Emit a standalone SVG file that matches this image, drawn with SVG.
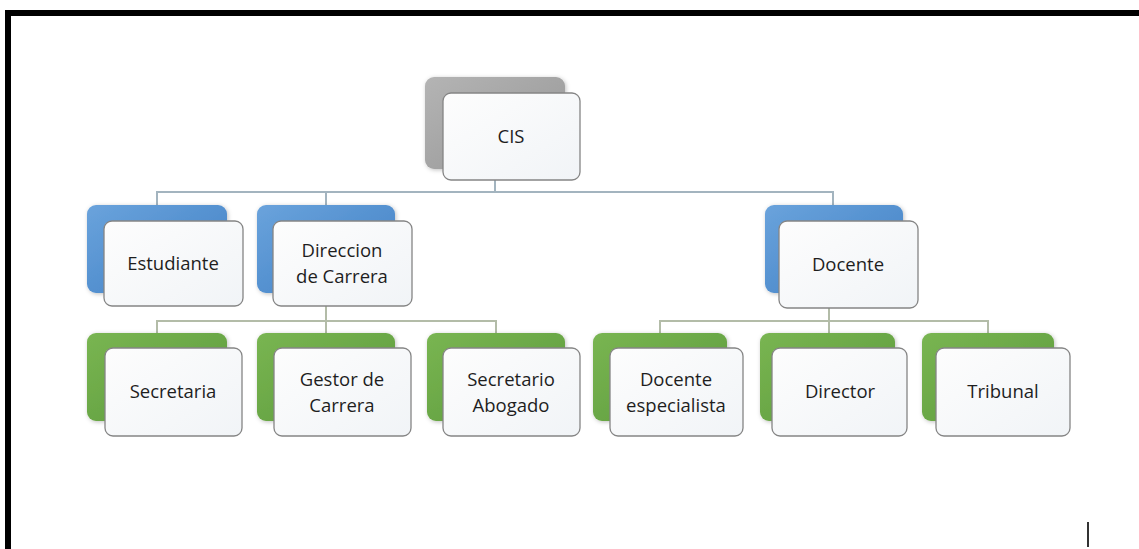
<svg xmlns="http://www.w3.org/2000/svg" width="1139" height="549" viewBox="0 0 1139 549">
<defs>
<linearGradient id="gGray" x1="0" y1="0" x2="1" y2="1"><stop offset="0" stop-color="#b4b4b4"/><stop offset="1" stop-color="#959595"/></linearGradient>
<linearGradient id="gBlue" x1="0" y1="0" x2="1" y2="1"><stop offset="0" stop-color="#6aa3dc"/><stop offset="1" stop-color="#3f7fc4"/></linearGradient>
<linearGradient id="gGreen" x1="0" y1="0" x2="1" y2="1"><stop offset="0" stop-color="#79b552"/><stop offset="1" stop-color="#5c9a3a"/></linearGradient>
<linearGradient id="gFront" x1="0" y1="0" x2="1" y2="1"><stop offset="0" stop-color="#fdfdfd"/><stop offset="1" stop-color="#f1f4f7"/></linearGradient>
<filter id="sh" x="-10%" y="-10%" width="125%" height="125%"><feDropShadow dx="1" dy="1" stdDeviation="2" flood-color="#000" flood-opacity="0.25"/></filter>
</defs>
<style>
.back{filter:url(#sh)}
.gray{fill:url(#gGray)}
.blue{fill:url(#gBlue)}
.green{fill:url(#gGreen)}
.front{fill:url(#gFront);stroke:#858585;stroke-width:1.3}
.t{font-family:"Open Sans","Liberation Sans",sans-serif;font-size:18.5px;fill:#1e1e1e;text-anchor:middle}
.c1{fill:none;stroke:#a3b4bf;stroke-width:2}
.c2{fill:none;stroke:#b3bca8;stroke-width:2}
</style>
<rect width="1139" height="549" fill="#fff"/>
<path d="M8 549 V13 H1139" fill="none" stroke="#000" stroke-width="6"/>
<line x1="1088" y1="522" x2="1088" y2="547" stroke="#333" stroke-width="2"/>

<g id="connectors">
<path class="c1" d="M495 180 V192 M157 205 V192 H833 V205 M326 192 V205"/>
<path class="c2" d="M326 306 V321 M157 333 V321 H496 V333 M326 321 V333"/>
<path class="c2" d="M829 308 V321 M660 333 V321 H988 V333 M829 321 V333"/>
</g>

<g id="cis"><rect class="back gray" x="425" y="77" width="140" height="92" rx="9"/><rect class="front" x="443" y="93" width="137" height="87" rx="8"/><text class="t" x="511" y="143">CIS</text></g>

<g id="estudiante"><rect class="back blue" x="87" y="205" width="140" height="88" rx="9"/><rect class="front" x="104" y="221" width="139" height="85" rx="8"/><text class="t" x="173" y="270">Estudiante</text></g>
<g id="direccion"><rect class="back blue" x="257" y="205" width="138" height="88" rx="9"/><rect class="front" x="273" y="221" width="139" height="85" rx="8"/><text class="t" x="342" y="257">Direccion</text><text class="t" x="342" y="283">de Carrera</text></g>
<g id="docente"><rect class="back blue" x="765" y="205" width="138" height="88" rx="9"/><rect class="front" x="779" y="221" width="139" height="87" rx="8"/><text class="t" x="848" y="271">Docente</text></g>

<g id="secretaria"><rect class="back green" x="87" y="333" width="140" height="88" rx="9"/><rect class="front" x="105" y="348" width="137" height="88" rx="8"/><text class="t" x="173" y="398">Secretaria</text></g>
<g id="gestor"><rect class="back green" x="257" y="333" width="138" height="88" rx="9"/><rect class="front" x="274" y="348" width="137" height="88" rx="8"/><text class="t" x="342" y="386">Gestor de</text><text class="t" x="342" y="412">Carrera</text></g>
<g id="secretario"><rect class="back green" x="427" y="333" width="138" height="88" rx="9"/><rect class="front" x="443" y="348" width="137" height="88" rx="8"/><text class="t" x="511" y="386">Secretario</text><text class="t" x="511" y="412">Abogado</text></g>
<g id="docente-esp"><rect class="back green" x="593" y="333" width="134" height="88" rx="9"/><rect class="front" x="610" y="348" width="133" height="88" rx="8"/><text class="t" x="676" y="386">Docente</text><text class="t" x="676" y="412">especialista</text></g>
<g id="director"><rect class="back green" x="760" y="333" width="135" height="88" rx="9"/><rect class="front" x="772" y="348" width="135" height="88" rx="8"/><text class="t" x="840" y="398">Director</text></g>
<g id="tribunal"><rect class="back green" x="922" y="333" width="132" height="88" rx="9"/><rect class="front" x="936" y="348" width="134" height="88" rx="8"/><text class="t" x="1003" y="398">Tribunal</text></g>
</svg>
